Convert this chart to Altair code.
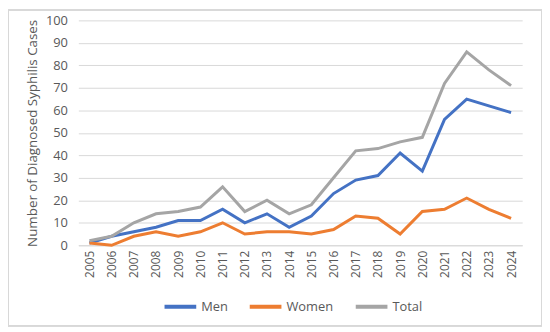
import altair as alt
import pandas as pd

years = [str(y) for y in range(2005, 2025)]
men = [1, 4, 6, 8, 11, 11, 16, 10, 14, 8, 13, 23, 29, 31, 41, 33, 56, 65, 62, 59]
women = [1, 0, 4, 6, 4, 6, 10, 5, 6, 6, 5, 7, 13, 12, 5, 15, 16, 21, 16, 12]
total = [2, 4, 10, 14, 15, 17, 26, 15, 20, 14, 18, 30, 42, 43, 46, 48, 72, 86, 78, 71]

series = ["Men", "Women", "Total"]
colors = ["#4472C4", "#ED7D31", "#A5A5A5"]

rows = []
for name, vals in zip(series, [men, women, total]):
    for i, (yr, v) in enumerate(zip(years, vals)):
        rows.append({"Year": yr, "Cases": v, "Series": name, "order": series.index(name)})
df = pd.DataFrame(rows)

FONT = "Open Sans"
GRAY = "#595959"

lines = alt.Chart(df).mark_line(strokeWidth=3).encode(
    x=alt.X("Year:O", scale=alt.Scale(padding=0.5),
            axis=alt.Axis(title=None, labelAngle=-90, labelAlign="right", labelBaseline="middle",
                          labelPadding=5, ticks=False, domainColor="#D9D9D9",
                          labelFontSize=12, labelColor=GRAY, labelFont=FONT)),
    y=alt.Y("Cases:Q", scale=alt.Scale(domain=[0, 100], nice=False),
            axis=alt.Axis(title="Number of Diagnosed Syphilis Cases", values=list(range(0, 101, 10)),
                          grid=True, gridColor="#D9D9D9", domain=False, ticks=False,
                          labelPadding=11, labelFontSize=13, labelColor=GRAY, labelFont=FONT,
                          titleFontSize=13.5, titleFontWeight="normal", titleColor=GRAY,
                          titleFont=FONT, titlePadding=6)),
    color=alt.Color("Series:N", scale=alt.Scale(domain=series, range=colors),
                    legend=alt.Legend(title=None, orient="none", direction="horizontal",
                                      legendX=85, legendY=271,
                                      symbolType="stroke", symbolSize=1024, symbolStrokeWidth=4,
                                      labelFontSize=13, labelColor=GRAY, labelFont=FONT,
                                      columnPadding=14, symbolOffset=0, labelOffset=3)),
    order=alt.Order("order:Q"),
    detail="Series:N",
)

border = alt.Chart(df).mark_rect(fill=None, stroke="#D9D9D9", strokeWidth=1).encode(
    x=alt.value(-70.5), x2=alt.value(467.5), y=alt.value(-10.5), y2=alt.value(308.5)
)

chart = alt.layer(border, lines).properties(
    width=448, height=227,
    autosize=alt.AutoSizeParams(type="none"),
    padding={"left": 71, "top": 11, "right": 20, "bottom": 82},
    background="white",
).configure_view(stroke=None)

chart.save("out.html", embed_options={"renderer": "svg", "actions": False})
